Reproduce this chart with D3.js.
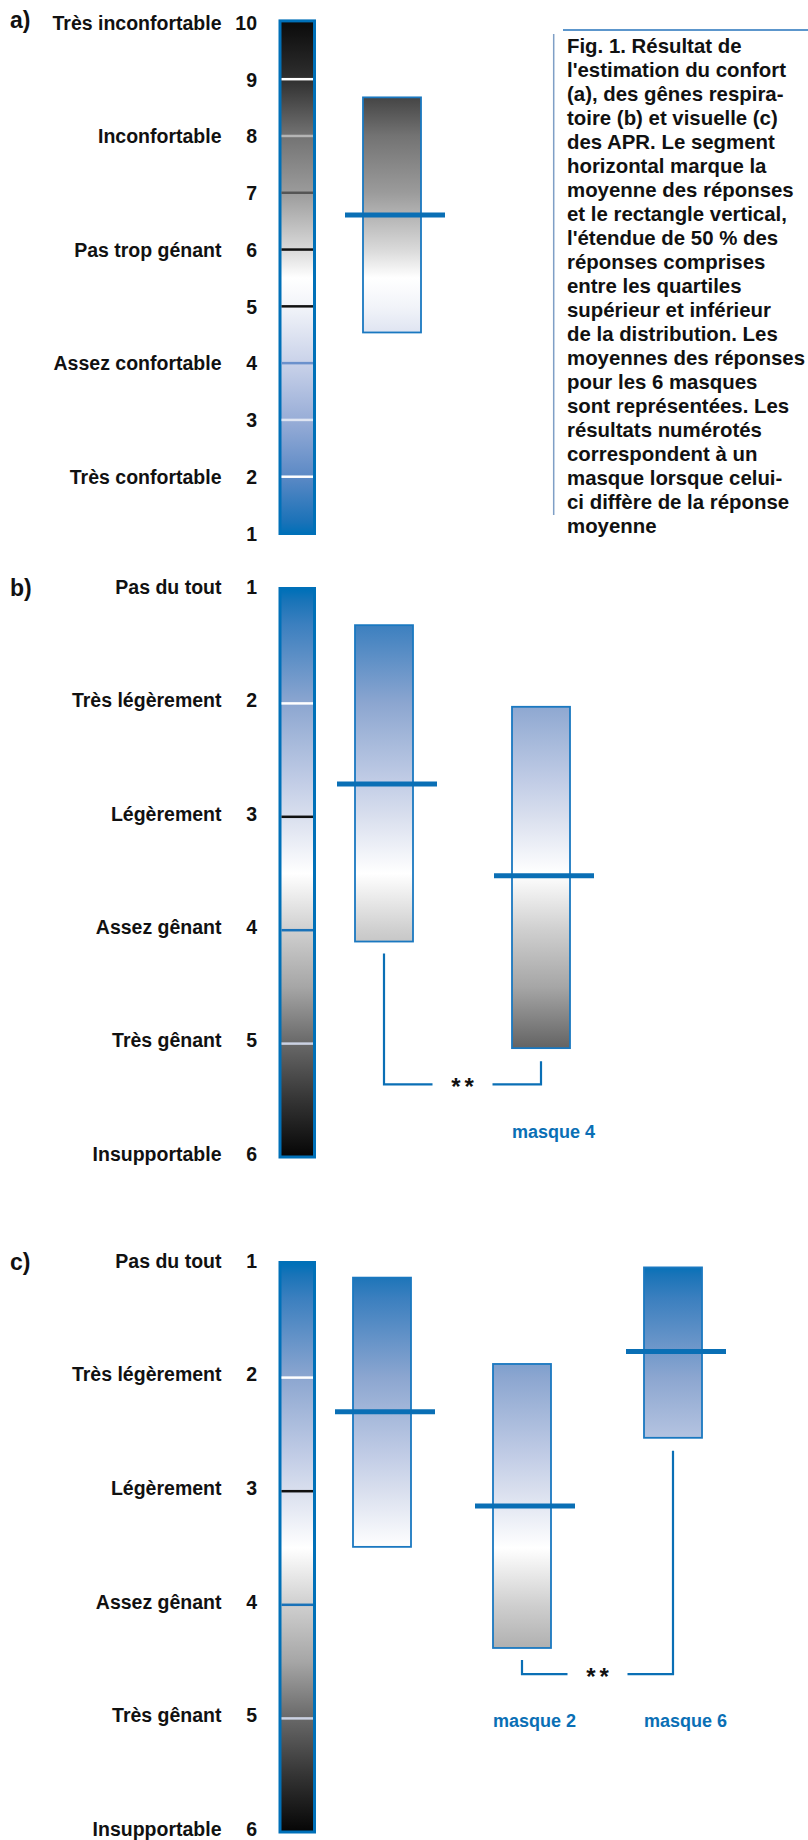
<!DOCTYPE html>
<html>
<head>
<meta charset="utf-8">
<title>Fig. 1 - confort et gênes des APR</title>
<script src="https://cdn.jsdelivr.net/npm/d3@7"></script>
<style>
  body { margin: 0; background: #fff; }
  svg { display: block; }
  text { font-family: "Liberation Sans", Arial, sans-serif; font-weight: bold; fill: #111; }
  .num { font-family: "Liberation Sans Narrow", "Liberation Sans", Arial, sans-serif; }
</style>
</head>
<body>
<div id="chart"></div>
<script>
// a) confort : 10 en haut, 1 en bas
var levelsA = [10, 9, 8, 7, 6, 5, 4, 3, 2, 1];
var wordsA = ["Très inconfortable", "", "Inconfortable", "", "Pas trop génant", "", "Assez confortable", "", "Très confortable", ""];
var masksA = ["moyenne"];
var upperA = [8.68];
var lowerA = [4.54];
var meanA = [6.61];

// b) et c) gênes : 1 en haut, 6 en bas
var levelsG = [1, 2, 3, 4, 5, 6];
var wordsG = ["Pas du tout", "Très légèrement", "Légèrement", "Assez gênant", "Très gênant", "Insupportable"];

var masksB = ["moyenne", "masque 4"];
var upperB = [1.31, 2.03];
var lowerB = [4.10, 5.04];
var meanB = [2.71, 3.52];
var sigB = ["moyenne", "masque 4", 5.36, "**"];   // from, to, level, mark

var masksC = ["moyenne", "masque 2", "masque 6"];
var upperC = [1.12, 1.88, 1.03];
var lowerC = [3.49, 4.38, 2.53];
var meanC = [2.30, 3.13, 1.77];
var sigC = ["masque 2", "masque 6", 4.61, "**"];

var caption = [
  "Fig. 1. Résultat de",
  "l'estimation du confort",
  "(a), des gênes respira-",
  "toire (b) et visuelle (c)",
  "des APR. Le segment",
  "horizontal marque la",
  "moyenne des réponses",
  "et le rectangle vertical,",
  "l'étendue de 50 % des",
  "réponses comprises",
  "entre les quartiles",
  "supérieur et inférieur",
  "de la distribution. Les",
  "moyennes des réponses",
  "pour les 6 masques",
  "sont représentées. Les",
  "résultats numérotés",
  "correspondent à un",
  "masque lorsque celui-",
  "ci diffère de la réponse",
  "moyenne"
];

// colours (styles, not data)
var BLUE = "#0a6fb5";
var gradStopsA = [[10, "#0b0b0b"], [9, "#2f2f2f"], [8, "#737373"], [7, "#9b9b9b"], [6, "#d9d9d9"],
  [5.5, "#ffffff"], [5, "#f2f4f9"], [4, "#c9d2e9"], [3, "#98add7"], [2, "#5b89c5"], [1.2, "#1a72b8"], [1, "#0070b8"]];
var gradStopsG = [[1, "#0070b8"], [1.1, "#1a74b8"], [1.3, "#3b7fbf"], [2, "#8ca6d0"], [2.7, "#c2cde6"],
  [3, "#d9dfee"], [3.5, "#ffffff"], [4, "#cfcfcf"], [4.5, "#a6a6a6"], [5, "#686868"], [5.5, "#343434"], [6, "#050505"]];
var tickColA = {9: "#ffffff", 8: "#b5b5b5", 7: "#555555", 6: "#111111", 5: "#111111", 4: "#6b91cc", 3: "#dfe5f2", 2: "#ffffff"};
var tickColG = {2: "#ffffff", 3: "#111111", 4: "#1a72b8", 5: "#cbd2e3"};

var W = 808, H = 1840;
var svg = d3.select("#chart").append("svg").attr("width", W).attr("height", H);
var defs = svg.append("defs");

var panels = [
  { id: "a", letter: "a)", levels: levelsA, words: wordsA, masks: masksA, upper: upperA, lower: lowerA, mean: meanA,
    y: d3.scaleLinear().domain([10, 1]).range([22.4, 533.5]), lift: 0,
    x: d3.scaleOrdinal().domain(masksA).range([363]),
    stops: gradStopsA, ticks: tickColA, sig: null },
  { id: "b", letter: "b)", levels: levelsG, words: wordsG, masks: masksB, upper: upperB, lower: lowerB, mean: meanB,
    y: d3.scaleLinear().domain([1, 6]).range([590, 1157]), lift: -3.5,
    x: d3.scaleOrdinal().domain(masksB).range([355, 512]),
    stops: gradStopsG, ticks: tickColG, sig: sigB },
  { id: "c", letter: "c)", levels: levelsG, words: wordsG, masks: masksC, upper: upperC, lower: lowerC, mean: meanC,
    y: d3.scaleLinear().domain([1, 6]).range([1264, 1832]), lift: -3.5,
    x: d3.scaleOrdinal().domain(masksC).range([353, 493, 644]),
    stops: gradStopsG, ticks: tickColG, sig: sigC }
];

var boxW = 58;

panels.forEach(function (p) {
  var y = p.y;
  var lo = p.levels[0], hi = p.levels[p.levels.length - 1];
  var y1 = y(lo), y2 = y(hi);

  // gradient shared by the scale bar and the boxes
  var grad = defs.append("linearGradient")
    .attr("id", "grad-" + p.id)
    .attr("gradientUnits", "userSpaceOnUse")
    .attr("x1", 0).attr("x2", 0).attr("y1", y1).attr("y2", y2);
  grad.selectAll("stop").data(p.stops).enter().append("stop")
    .attr("offset", function (d) { return (y(d[0]) - y1) / (y2 - y1); })
    .attr("stop-color", function (d) { return d[1]; });

  var g = svg.append("g");

  // panel letter
  g.append("text").attr("x", 10).attr("y", y1 - 2).attr("dy", "0.35em")
    .style("font-size", "23px").text(p.letter);

  // labels and numbers as axes
  var wordAxis = d3.axisLeft(y).tickValues(p.levels).tickSize(0).tickPadding(0)
    .tickFormat(function (d, i) { return p.words[i]; });
  g.append("g").attr("transform", "translate(221.5," + p.lift + ")").call(wordAxis)
    .call(function (s) { s.select(".domain").remove(); s.attr("font-size", null).attr("font-family", null); })
    .selectAll("text").style("font-size", "19.5px").attr("dy", "0.35em");

  var numAxis = d3.axisLeft(y).tickValues(p.levels).tickSize(0).tickPadding(0).tickFormat(d3.format("d"));
  g.append("g").attr("transform", "translate(257," + p.lift + ")").call(numAxis)
    .call(function (s) { s.select(".domain").remove(); s.attr("font-size", null).attr("font-family", null); })
    .selectAll("text").attr("class", "num").style("font-size", "19.5px").attr("dy", "0.35em");

  // scale bar
  var barX = 280, barW = 34.5;
  g.append("rect").attr("x", barX).attr("y", y1 - 1.5).attr("width", barW).attr("height", y2 - y1 + 1.5)
    .attr("fill", "url(#grad-" + p.id + ")")
    .attr("stroke", "#0070b8").attr("stroke-width", 3);
  g.selectAll("line.tick-bar").data(p.levels.filter(function (v) { return p.ticks[v]; })).enter()
    .append("line").attr("class", "tick-bar")
    .attr("x1", barX + 1.5).attr("x2", barX + barW - 1.5)
    .attr("y1", function (v) { return y(v); }).attr("y2", function (v) { return y(v); })
    .attr("stroke", function (v) { return p.ticks[v]; }).attr("stroke-width", 2.5);

  // boxes (quartiles)
  var rows = p.masks.map(function (m, i) { return { mask: m, up: p.upper[i], low: p.lower[i], mean: p.mean[i] }; });
  g.selectAll("rect.box").data(rows).enter().append("rect").attr("class", "box")
    .attr("x", function (d) { return p.x(d.mask); })
    .attr("y", function (d) { return y(d.up); })
    .attr("width", boxW)
    .attr("height", function (d) { return y(d.low) - y(d.up); })
    .attr("fill", "url(#grad-" + p.id + ")")
    .attr("stroke", "#1a78c0").attr("stroke-width", 1.8);

  // means
  g.selectAll("line.mean").data(rows).enter().append("line").attr("class", "mean")
    .attr("x1", function (d) { return p.x(d.mask) - 18; })
    .attr("x2", function (d) { return p.x(d.mask) + boxW + 24; })
    .attr("y1", function (d) { return y(d.mean); })
    .attr("y2", function (d) { return y(d.mean); })
    .attr("stroke", BLUE).attr("stroke-width", 5);

  // significance bracket and mask names
  if (p.sig) {
    var from = p.sig[0], to = p.sig[1];
    var iFrom = p.masks.indexOf(from), iTo = p.masks.indexOf(to);
    var ax = p.x(from) + boxW / 2, bx = p.x(to) + boxW / 2;
    var by = y(p.sig[2]);
    var mid = (ax + bx) / 2;
    var path = d3.path();
    path.moveTo(ax, y(p.lower[iFrom]) + 12);
    path.lineTo(ax, by);
    path.lineTo(mid - 30, by);
    path.moveTo(mid + 30, by);
    path.lineTo(bx, by);
    path.lineTo(bx, y(p.lower[iTo]) + 13);
    g.append("path").attr("d", path.toString())
      .attr("fill", "none").attr("stroke", BLUE).attr("stroke-width", 2.2);
    g.append("text").attr("x", mid + 2).attr("y", by + 11).attr("text-anchor", "middle")
      .style("font-size", "24px").style("letter-spacing", "4px").text(p.sig[3]);

    g.selectAll("text.mname").data(p.masks.filter(function (m) { return m !== "moyenne"; })).enter()
      .append("text").attr("class", "mname")
      .attr("x", function (m) { return p.x(m); })
      .attr("y", by + 47).attr("dy", "0.35em")
      .style("font-size", "18px").style("fill", BLUE)
      .text(function (m) { return m; });
  }
});

// caption
var cap = svg.append("g");
cap.append("line").attr("x1", 563).attr("x2", W).attr("y1", 30).attr("y2", 30)
  .attr("stroke", "#5c96cc").attr("stroke-width", 2);
cap.append("line").attr("x1", 553.7).attr("x2", 553.7).attr("y1", 34).attr("y2", 515)
  .attr("stroke", "#7f9fc6").attr("stroke-width", 1.5);
cap.selectAll("text").data(caption).enter().append("text")
  .attr("x", 567).attr("y", function (d, i) { return 53.4 + i * 24; })
  .style("font-size", "20.4px")
  .text(function (d) { return d; });
</script>
</body>
</html>
